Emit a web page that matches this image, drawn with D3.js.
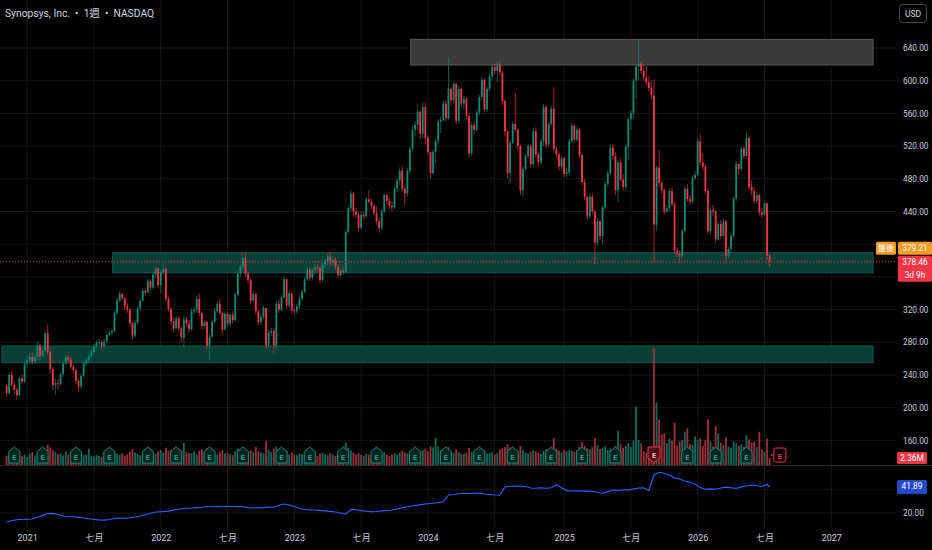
<!DOCTYPE html>
<html>
<head>
<meta charset="utf-8">
<script src="https://cdn.jsdelivr.net/npm/d3@7"></script>
<style>
  body { margin: 0; background: #000; }
  svg { display: block; font-family: Roboto, "Noto Sans CJK TC", sans-serif; }
</style>
</head>
<body>
<script>
// weekly bars, first bar week of 2020-11-09
const startWeek = "2020-11-09";
const firstOpen = 227;

const closes = [
  218, 240, 228, 222, 215, 236, 232, 254, 258, 262,
  257, 262, 276, 263, 270, 291, 268, 247, 228, 230,
  229, 241, 254, 261, 259, 250, 246, 233, 226, 239,
  254, 258, 263, 268, 275, 279, 280, 275, 281, 289,
  292, 294, 316, 331, 339, 334, 324, 320, 303, 288,
  304, 321, 331, 343, 341, 355, 347, 363, 370, 350,
  366, 370, 333, 321, 306, 297, 309, 297, 286, 308,
  303, 296, 318, 320, 333, 316, 300, 305, 276, 287,
  305, 318, 327, 316, 296, 315, 303, 314, 307, 338,
  364, 373, 383, 364, 356, 331, 339, 318, 305, 311,
  322, 276, 292, 294, 276, 327, 320, 335, 357, 325,
  340, 319, 318, 324, 333, 342, 357, 369, 359, 368,
  372, 371, 356, 375, 379, 385, 377, 381, 373, 362,
  368, 366, 415, 444, 462, 440, 436, 420, 436, 434,
  455, 452, 447, 438, 428, 420, 440, 460, 453, 447,
  445, 468, 478, 490, 468, 462, 490, 517, 540, 546,
  562, 535, 568, 530, 513, 487, 513, 526, 550, 552,
  572, 554, 590, 576, 596, 551, 590, 572, 578, 557,
  511, 546, 540, 561, 580, 601, 565, 590, 605, 617,
  612, 620, 610, 575, 538, 487, 524, 547, 540, 520,
  466, 492, 508, 520, 498, 538, 510, 500, 526, 568,
  522, 547, 566, 516, 510, 495, 505, 486, 488, 526,
  545, 528, 540, 509, 476, 458, 434, 458, 440, 402,
  428, 410, 445, 474, 487, 518, 508, 466, 500, 479,
  470, 519, 553, 560, 600, 617, 621, 612, 604, 598,
  591, 582, 424, 494, 475, 466, 440, 444, 465, 449,
  392, 388, 386, 416, 468, 455, 452, 481, 485, 526,
  500, 495, 465, 416, 442, 440, 406, 425, 410, 428,
  386, 394, 410, 456, 498, 492, 517, 508, 530, 470,
  465, 453, 460, 439, 436, 450, 386, 378.46
];

const highs = [
  229, 243, 246, 232, 225, 238, 240, 257, 263, 266,
  268, 266, 281, 278, 274, 294, 302, 270, 250, 236,
  235, 244, 257, 265, 264, 262, 253, 248, 236, 242,
  257, 261, 266, 271, 278, 283, 284, 283, 284, 292,
  295, 298, 319, 334, 343, 341, 336, 328, 321, 305,
  307, 324, 334, 346, 346, 358, 357, 366, 373, 372,
  369, 378, 372, 336, 323, 310, 312, 312, 300, 312,
  311, 307, 322, 324, 337, 340, 318, 308, 306, 290,
  308, 322, 330, 333, 318, 318, 317, 317, 318, 341,
  367, 376, 386, 390, 366, 358, 343, 341, 320, 315,
  325, 322, 296, 298, 297, 330, 332, 338, 361, 358,
  344, 341, 324, 327, 336, 345, 360, 372, 371, 371,
  375, 376, 374, 378, 382, 388, 391, 384, 384, 376,
  371, 373, 418, 447, 466, 464, 444, 440, 440, 440,
  458, 466, 456, 449, 446, 432, 443, 463, 462, 457,
  452, 471, 481, 494, 495, 472, 493, 520, 544, 550,
  566, 563, 574, 573, 533, 512, 516, 529, 553, 556,
  575, 576, 629, 592, 599, 597, 594, 592, 582, 580,
  560, 550, 550, 564, 583, 605, 603, 593, 609, 621,
  620, 623, 625, 612, 577, 540, 527, 550, 585, 542,
  522, 495, 511, 523, 522, 542, 543, 513, 529, 572,
  570, 550, 569, 592, 520, 514, 508, 507, 494, 529,
  548, 546, 543, 542, 511, 480, 460, 462, 462, 442,
  432, 430, 448, 477, 491, 522, 522, 512, 503, 505,
  486, 522, 556, 564, 603, 620, 651, 624, 620, 618,
  606, 600, 602, 496, 515, 478, 468, 448, 468, 470,
  452, 396, 392, 419, 472, 474, 460, 484, 490, 530,
  534, 512, 498, 468, 446, 448, 442, 428, 430, 432,
  430, 397, 414, 459, 502, 500, 520, 520, 537, 532,
  478, 470, 464, 462, 444, 453, 451, 388
];

const lows = [
  213, 216, 226, 217, 210, 214, 229, 230, 250, 255,
  253, 254, 258, 259, 262, 268, 265, 242, 222, 216,
  222, 227, 238, 252, 255, 247, 242, 229, 220, 223,
  237, 251, 255, 261, 266, 273, 276, 272, 273, 279,
  287, 289, 292, 313, 329, 331, 320, 316, 299, 284,
  286, 302, 318, 330, 337, 340, 343, 345, 358, 346,
  340, 362, 330, 318, 302, 293, 296, 294, 280, 274,
  299, 292, 294, 314, 316, 312, 296, 296, 270, 258,
  285, 303, 316, 313, 291, 294, 299, 298, 303, 305,
  336, 360, 369, 360, 352, 327, 328, 314, 301, 302,
  308, 272, 274, 288, 267, 270, 316, 318, 333, 321,
  322, 316, 314, 315, 321, 331, 340, 355, 355, 356,
  362, 366, 352, 354, 371, 374, 373, 374, 369, 358,
  360, 362, 364, 413, 440, 433, 432, 416, 418, 430,
  432, 450, 443, 434, 424, 414, 418, 438, 449, 443,
  440, 443, 464, 472, 464, 448, 458, 486, 514, 532,
  540, 528, 530, 522, 509, 481, 485, 498, 522, 536,
  550, 550, 552, 570, 572, 547, 548, 568, 565, 553,
  506, 508, 535, 538, 558, 576, 561, 562, 587, 600,
  608, 598, 606, 570, 532, 481, 474, 522, 536, 515,
  460, 458, 490, 505, 494, 494, 506, 495, 498, 520,
  518, 520, 545, 512, 505, 490, 492, 482, 482, 484,
  524, 524, 525, 505, 472, 454, 430, 432, 436, 375,
  398, 405, 400, 443, 470, 484, 504, 460, 452, 476,
  466, 467, 503, 540, 553, 578, 600, 608, 600, 594,
  587, 577, 378, 416, 470, 462, 436, 438, 440, 446,
  388, 384, 377, 383, 414, 452, 448, 450, 478, 483,
  496, 490, 461, 412, 413, 435, 402, 404, 406, 408,
  377, 383, 390, 408, 452, 484, 489, 504, 506, 466,
  460, 450, 450, 435, 432, 434, 380, 372
];

// weekly volume, millions
const volumes = [
  3.2, 2.8, 3.6, 2.9, 3.4, 4.1, 3.0, 3.5, 2.7, 3.9,
  4.4, 3.1, 3.8, 4.6, 3.3, 5.2, 6.8, 5.9, 5.1, 4.3,
  3.6, 3.9, 3.2, 4.5, 3.4, 3.0, 2.9, 4.8, 4.1, 3.7,
  3.3, 3.5, 5.5, 3.0, 2.9, 3.4, 3.1, 2.8, 4.2, 3.3,
  3.0, 3.5, 4.0, 3.8, 3.4, 3.9, 3.1, 3.6, 4.5, 5.3,
  4.2, 3.8, 3.3, 3.9, 3.0, 4.4, 3.6, 3.2, 3.8, 4.6,
  5.0, 4.1, 5.8, 4.7, 5.1, 4.0, 3.8, 4.5, 4.9, 7.4,
  4.3, 4.0, 3.9, 4.6, 3.5, 4.8, 5.2, 4.1, 5.6, 5.9,
  4.4, 3.7, 3.5, 4.3, 5.0, 3.9, 4.1, 3.6, 3.4, 4.7,
  5.5, 3.8, 3.9, 4.9, 4.2, 5.0, 4.4, 6.0, 4.6, 4.2,
  4.0, 8.0, 5.1, 4.4, 5.6, 6.2, 4.1, 3.9, 4.5, 4.8,
  3.6, 4.2, 3.5, 3.3, 3.8, 3.6, 3.9, 4.3, 3.4, 3.7,
  3.2, 3.0, 3.9, 4.1, 3.6, 3.3, 4.0, 3.5, 3.1, 3.8,
  3.3, 3.6, 7.6, 5.8, 4.9, 4.2, 3.6, 4.0, 3.4, 3.1,
  3.8, 3.5, 3.2, 4.1, 4.6, 3.9, 3.6, 4.3, 3.4, 3.0,
  3.5, 3.9, 3.4, 4.2, 4.8, 4.3, 3.9, 4.6, 5.1, 4.2,
  4.8, 4.4, 5.0, 5.6, 4.6, 6.3, 5.9, 9.1, 6.2, 4.9,
  5.4, 4.8, 6.0, 4.4, 4.1, 5.2, 4.3, 3.8, 3.6, 4.0,
  5.8, 4.5, 3.7, 3.6, 3.9, 4.7, 5.0, 3.8, 4.0, 4.4,
  3.5, 4.0, 5.2, 5.6, 6.0, 7.0, 5.9, 4.3, 4.0, 4.5,
  6.4, 5.1, 4.2, 3.9, 4.5, 5.0, 4.6, 4.1, 3.8, 4.8,
  5.3, 4.0, 4.4, 9.0, 5.5, 4.9, 4.2, 5.0, 4.6, 5.1,
  4.8, 4.4, 5.0, 6.2, 7.8, 6.5, 5.7, 5.3, 6.0, 9.0,
  6.6, 5.4, 5.9, 6.2, 5.1, 5.6, 4.8, 6.4, 11.5, 7.0,
  5.8, 6.4, 7.3, 6.1, 8.2, 19.7, 8.4, 7.3, 4.6, 4.2,
  4.8, 5.0, 39.4, 21.0, 15.4, 10.2, 10.7, 7.3, 9.0, 8.2,
  14.2, 6.5, 7.9, 8.4, 11.2, 12.4, 7.0, 6.8, 9.6, 8.4,
  9.0, 6.4, 8.5, 15.4, 7.9, 6.3, 13.0, 10.7, 7.5, 6.8,
  9.3, 6.2, 5.9, 7.9, 7.3, 6.5, 7.0, 6.1, 10.0, 8.6,
  7.6, 7.9, 6.0, 11.2, 5.2, 4.6, 8.9, 2.36
];

// lower pane line, read every second week; the last value is the latest week
const rsValues = [
  12.7, 13.5, 14.3, 14.7, 14.8, 15.0, 16.5, 18.0, 19.5, 19.7,
  18.8, 17.5, 16.9, 16.8, 16.5, 15.8, 15.2, 14.6, 14.1, 14.0,
  14.5, 15.5, 15.8, 15.6, 16.0, 16.6, 17.5, 18.6, 19.8, 20.8,
  21.1, 21.4, 22.0, 22.9, 23.6, 24.0, 24.2, 24.5, 24.8, 25.3,
  25.2, 25.4, 25.3, 25.6, 25.5, 25.4, 25.2, 24.5, 24.2, 24.6,
  24.3, 25.0, 24.8, 26.5, 27.6, 26.8, 25.4, 23.8, 23.0, 22.6,
  22.5, 22.2, 21.8, 21.4, 20.9, 20.0, 19.0, 23.1, 22.6, 22.0,
  21.5, 21.1, 21.3, 21.8, 22.2, 22.5, 23.3, 24.4, 25.2, 26.1,
  26.6, 27.4, 27.8, 28.2, 28.9, 29.5, 35.2, 35.6, 36.2, 36.6,
  36.4, 36.8, 36.5, 36.0, 35.6, 35.2, 35.0, 42.1, 42.5, 42.7,
  42.6, 42.3, 41.0, 40.8, 41.2, 40.9, 41.3, 43.6, 41.5, 38.8,
  38.5, 38.6, 38.4, 38.5, 38.3, 37.2, 36.6, 38.0, 39.4, 39.0,
  39.6, 39.3, 40.2, 41.0, 41.3, 39.0, 52.0, 54.3, 53.5, 52.0,
  49.5, 48.6, 47.0, 45.8, 44.2, 41.5, 40.0, 40.3, 40.0, 41.0,
  41.8, 41.3, 40.6, 42.0, 42.8, 43.6, 43.0, 42.1, 44.2, 41.89
];

const earningsDates = [
  "2020-12-02", "2021-02-17", "2021-05-19", "2021-08-18", "2021-12-01",
  "2022-02-16", "2022-05-18", "2022-08-17", "2022-11-30", "2023-02-15",
  "2023-05-17", "2023-08-16", "2023-11-29", "2024-02-21", "2024-05-22",
  "2024-08-21", "2024-12-04", "2025-02-26", "2025-05-28", "2025-09-09",
  "2025-12-10", "2026-02-25", "2026-05-20"
];
const earningsMiss = ["2025-09-09"];
const nextEarnings = "2026-08-19";

const tickDates = [
  "2021-01-04", "2021-07-05", "2022-01-03", "2022-07-04", "2023-01-02",
  "2023-07-03", "2024-01-01", "2024-07-01", "2025-01-06", "2025-07-07",
  "2026-01-05", "2026-07-06", "2027-01-04"
];
const tickLabels = ["2021", "七月", "2022", "七月", "2023", "七月", "2024", "七月", "2025", "七月", "2026", "七月", "2027"];

const priceTicks = [640, 600, 560, 520, 480, 440, 400, 360, 320, 280, 240, 200, 160];
const hiddenTicks = [400, 360];   // covered by the last price tags
const rsTicks = [20, 40];

// drawn zones: start date, low / high price
const zoneStarts = ["2023-11-15", "2021-08-25", "2020-10-27"];
const zoneLows = [619.2, 365.1, 255.0];
const zoneHighs = [650.6, 389.6, 275.5];
const zoneEnd = "2027-04-28";

const lastPrice = 378.46;
const postPrice = 379.21;
const lastVolume = 2.36;
const lastRs = 41.89;
const countdownText = "3d 9h";

// ---------------------------------------------------------
const W = 932, H = 550;
const parse = d3.timeParse("%Y-%m-%d");
const start = parse(startWeek);
const weeks = d3.timeMonday.range(start, d3.timeMonday.offset(start, closes.length));

const x = d3.scaleTime()
  .domain([start, weeks[weeks.length - 1]])
  .range([6.6, 769.6]);
const y = d3.scaleLinear().domain([160, 640]).range([440.4, 48]);
const yVol = d3.scaleLinear().domain([0, 39.4]).range([465, 348]);
const yRs = d3.scaleLinear().domain([20, 41.89]).range([513, 487]);

const upCol = "#0b8b75", downCol = "#f23645";
const upVol = "#0f6a5d", downVol = "#9e3038";
const textCol = "#c9ccd3";
const gridCol = "#171717";

const svg = d3.select("body").append("svg")
  .attr("width", W)
  .attr("height", H)
  .style("background", "#000");

// grid
const grid = svg.append("g");
grid.selectAll("line.h")
  .data(priceTicks)
  .enter().append("line")
  .attr("x1", 0).attr("x2", 896)
  .attr("y1", d => y(d)).attr("y2", d => y(d))
  .attr("stroke", gridCol);
grid.selectAll("line.r")
  .data(rsTicks)
  .enter().append("line")
  .attr("x1", 0).attr("x2", 896)
  .attr("y1", d => yRs(d)).attr("y2", d => yRs(d))
  .attr("stroke", gridCol);
grid.selectAll("line.v")
  .data(tickDates)
  .enter().append("line")
  .attr("x1", d => x(parse(d))).attr("x2", d => x(parse(d)))
  .attr("y1", 0).attr("y2", 528)
  .attr("stroke", gridCol);

// zones
const zoneFill = ["#3a3a3a", "#083f36", "#083f36"];
const zoneStroke = ["#5a5a5a", "#0f5a4d", "#0f5a4d"];
zoneStarts.forEach((s, i) => {
  svg.append("rect")
    .attr("x", x(parse(s)))
    .attr("y", y(zoneHighs[i]))
    .attr("width", x(parse(zoneEnd)) - x(parse(s)))
    .attr("height", y(zoneLows[i]) - y(zoneHighs[i]))
    .attr("fill", zoneFill[i])
    .attr("stroke", zoneStroke[i])
    .attr("stroke-width", 1);
});

// candles data
const bars = closes.map((c, i) => ({
  date: weeks[i],
  open: i ? closes[i - 1] : firstOpen,
  high: highs[i],
  low: lows[i],
  close: c,
  vol: volumes[i]
}));

// volume
svg.append("g").selectAll("rect")
  .data(bars)
  .enter().append("rect")
  .attr("x", d => x(d.date) - 0.9)
  .attr("width", 1.8)
  .attr("y", d => yVol(d.vol))
  .attr("height", d => yVol(0) - yVol(d.vol))
  .attr("fill", d => d.close >= d.open ? upVol : downVol);

// candles
const cg = svg.append("g");
cg.selectAll("line")
  .data(bars)
  .enter().append("line")
  .attr("x1", d => x(d.date)).attr("x2", d => x(d.date))
  .attr("y1", d => y(d.high)).attr("y2", d => y(d.low))
  .attr("stroke", d => d.close >= d.open ? upCol : downCol)
  .attr("stroke-opacity", 0.75)
  .attr("stroke-width", 0.9);
cg.selectAll("rect")
  .data(bars)
  .enter().append("rect")
  .attr("x", d => x(d.date) - 0.9)
  .attr("width", 1.8)
  .attr("y", d => y(Math.max(d.open, d.close)))
  .attr("height", d => Math.max(1, Math.abs(y(d.open) - y(d.close))))
  .attr("fill", d => d.close >= d.open ? upCol : downCol);

// earnings markers
const eg = svg.append("g").attr("font-size", 7.5).attr("font-weight", "bold").attr("text-anchor", "middle");
earningsDates.forEach(s => {
  const cx = x(d3.timeMonday.floor(parse(s)));
  const miss = earningsMiss.includes(s);
  const pts = miss
    ? [[cx - 6, 447], [cx + 6, 447], [cx + 6, 458], [cx, 463], [cx - 6, 458]]
    : [[cx, 447], [cx + 5.5, 451.5], [cx + 5.5, 463], [cx - 5.5, 463], [cx - 5.5, 451.5]];
  eg.append("path")
    .attr("d", d3.line()(pts) + "Z")
    .attr("fill", miss ? "#4a1016" : "#06231f")
    .attr("stroke", miss ? downCol : "#0b8b75")
    .attr("stroke-width", 1);
  eg.append("text")
    .attr("x", cx).attr("y", miss ? 457.5 : 459.5)
    .attr("fill", miss ? "#ffb3b8" : "#10a58b")
    .text("E");
});
{
  const cx = x(d3.timeMonday.floor(parse(nextEarnings)));
  eg.append("rect")
    .attr("x", cx - 6).attr("y", 448).attr("width", 12).attr("height", 14).attr("rx", 2)
    .attr("fill", "#000").attr("stroke", downCol);
  eg.append("text").attr("x", cx).attr("y", 458.5).attr("fill", downCol).text("E");
  eg.append("circle").attr("cx", cx - 8).attr("cy", 455).attr("r", 1).attr("fill", downCol);
}

// last price line
svg.append("line")
  .attr("x1", 0).attr("x2", 896)
  .attr("y1", y(lastPrice)).attr("y2", y(lastPrice))
  .attr("stroke", downCol)
  .attr("stroke-width", 1)
  .attr("stroke-dasharray", "1,2");

// pane separator
svg.append("line")
  .attr("x1", 0).attr("x2", W)
  .attr("y1", 465.5).attr("y2", 465.5)
  .attr("stroke", "#2a2a2a");

// lower pane line
const rsPoints = rsValues.map((v, k) => ({ date: weeks[Math.min(k * 2, weeks.length - 1)], v }));
svg.append("path")
  .datum(rsPoints)
  .attr("fill", "none")
  .attr("stroke", "#2962ff")
  .attr("stroke-width", 1.1)
  .attr("d", d3.line().x(d => x(d.date)).y(d => yRs(d.v)));

// price axis
const yAxis = svg.append("g")
  .attr("transform", "translate(903,0)")
  .call(d3.axisRight(y)
    .tickValues(priceTicks.filter(t => !hiddenTicks.includes(t)))
    .tickFormat(d3.format(".2f"))
    .tickSize(0).tickPadding(0));
yAxis.select(".domain").remove();
yAxis.selectAll("text").attr("fill", textCol).attr("font-size", 8.3).attr("font-family", "Roboto");

const rsAxis = svg.append("g")
  .attr("transform", "translate(903,0)")
  .call(d3.axisRight(yRs).tickValues([20]).tickFormat(d3.format(".2f")).tickSize(0).tickPadding(0));
rsAxis.select(".domain").remove();
rsAxis.selectAll("text").attr("fill", textCol).attr("font-size", 8.3).attr("font-family", "Roboto");

// time axis
const xAxis = svg.append("g")
  .attr("transform", "translate(0,535)")
  .call(d3.axisBottom(x)
    .tickValues(tickDates.map(parse))
    .tickFormat((d, i) => tickLabels[i])
    .tickSize(0).tickPadding(0));
xAxis.select(".domain").remove();
xAxis.selectAll("text").attr("fill", textCol).attr("font-size", 9).attr("font-family", "Roboto, 'Noto Sans CJK TC'");

// title
svg.append("text")
  .attr("x", 5).attr("y", 17)
  .attr("fill", "#d1d4dc")
  .attr("font-size", 10.3)
  .style("white-space", "pre")
  .text("Synopsys, Inc.  •  1週  •  NASDAQ");

// USD box
svg.append("rect")
  .attr("x", 899.5).attr("y", 4.5).attr("width", 27).attr("height", 18).attr("rx", 3)
  .attr("fill", "#000").attr("stroke", "#4a4a4a");
svg.append("text")
  .attr("x", 913).attr("y", 16.5).attr("text-anchor", "middle")
  .attr("fill", "#d1d4dc").attr("font-size", 8.5).text("USD");

// price tags (stacked so they do not overlap)
function tag(x0, y0, w, h, fill, lines) {
  svg.append("rect").attr("x", x0).attr("y", y0).attr("width", w).attr("height", h)
    .attr("rx", 1.5).attr("fill", fill);
  lines.forEach((t, i) => {
    svg.append("text")
      .attr("x", x0 + w / 2).attr("y", y0 + 9.3 + i * 12.5)
      .attr("text-anchor", "middle")
      .attr("fill", "#fff")
      .attr("font-size", 8.3)
      .text(t);
  });
}
const fmt = d3.format(".2f");
const redTop = y(lastPrice) - 6;
tag(876, redTop - 14, 20, 13, "#f59b21", ["盤後"]);
tag(898, redTop - 14, 34, 13, "#f59b21", [fmt(postPrice)]);
tag(898, redTop, 34, 26, downCol, [fmt(lastPrice), countdownText]);
tag(897, yVol(lastVolume) - 6, 30, 12, downCol, [lastVolume.toFixed(2) + "M"]);
tag(897, yRs(lastRs) - 7, 30, 14, "#2449c9", [fmt(lastRs)]);
</script>
</body>
</html>
